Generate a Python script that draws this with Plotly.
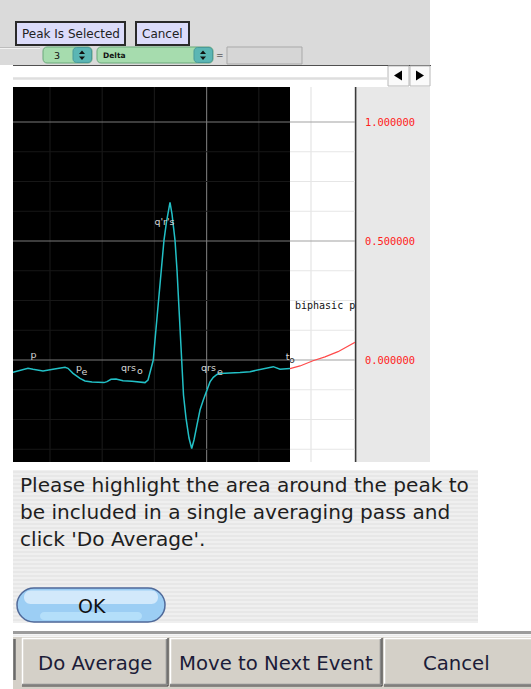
import plotly.graph_objects as go

# ---------------- data ----------------
# averaged beat (cyan) : sample position on the time axis, amplitude
ecg_sample = [13, 20, 28, 33, 43, 53, 65, 68, 73, 80,
              85, 92, 100, 104, 107, 111, 116, 123, 132, 140,
              145, 148, 151.5, 153.3, 155, 158, 161.7, 164, 166.5, 170,
              172, 175, 177, 179.5, 181.7, 183.5, 186, 189, 191.7, 194,
              197, 200, 203.3, 206.7, 210, 213.3, 217, 220, 230, 240,
              250, 260, 267, 273.3, 280, 286.7, 290]
ecg_value = [-0.052, -0.044, -0.035, -0.039, -0.046, -0.039, -0.031, -0.035, -0.056, -0.077,
             -0.088, -0.092, -0.094, -0.095, -0.091, -0.081, -0.080, -0.087, -0.089, -0.091,
             -0.095, -0.084, -0.028, 0.0, 0.084, 0.231, 0.378, 0.504, 0.580, 0.662,
             0.613, 0.504, 0.378, 0.168, 0.0, -0.147, -0.244, -0.328, -0.372, -0.336,
             -0.273, -0.210, -0.168, -0.126, -0.092, -0.073, -0.061, -0.057, -0.056, -0.053,
             -0.049, -0.039, -0.034, -0.028, -0.039, -0.039, -0.036]

# continuation of the signal outside the selection (red)
next_sample = [290, 300, 313, 325, 338, 347, 355]
next_value = [-0.036, -0.025, -0.003, 0.013, 0.035, 0.055, 0.074]

# fiducial point labels (main part and subscript part)
marker_sample = [33.5, 79, 128.5, 164.5, 208.5, 287.5]
marker_value = [0.019, -0.038, -0.036, 0.576, -0.036, 0.010]
marker_text = ['p', 'p', 'qrs', "q'r's", 'qrs', 't']

marker_sub_sample = [84.5, 140, 220]
marker_sub_value = [-0.053, -0.050, -0.053]
marker_sub_text = ['e', 'o', 'e']

onset_sub_sample = [292]
onset_sub_value = [-0.004]
onset_sub_text = ['o']

wave_label_sample = [295]
wave_label_value = [0.223]
wave_label_text = ['biphasic p']

# amplitude tick labels
y_ticks = [0.0, 0.5, 1.0]
y_tick_text = ['0.000000', '0.500000', '1.000000']

# interface texts
top_buttons = ['Peak Is Selected', 'Cancel']
lead_number = '3'
measure_name = 'Delta'
dialog_lines = ['Please highlight the area around the peak to',
                'be included in a single averaging pass and',
                "click 'Do Average'."]
ok_label = 'OK'
bottom_buttons = ['Do Average', 'Move to Next Event', 'Cancel']

# ---------------- layout helpers ----------------
W, H = 531, 689
X_RANGE = [13, 355]
Y_RANGE = [(360 - 462) / 238.0, (360 - 87) / 238.0]


def X(px):
    return px / W


def Y(py):
    return 1 - py / H


shapes = []
annotations = []


def rect(x0, y0, x1, y1, fill, line=None, lw=0, layer='below'):
    shapes.append(dict(type='rect', xref='paper', yref='paper',
                       x0=X(x0), x1=X(x1), y0=Y(y1), y1=Y(y0),
                       fillcolor=fill, line=dict(color=line or fill, width=lw), layer=layer))


def seg(x0, y0, x1, y1, color, w=1, layer='below'):
    shapes.append(dict(type='line', xref='paper', yref='paper',
                       x0=X(x0), x1=X(x1), y0=Y(y0), y1=Y(y1),
                       line=dict(color=color, width=w), layer=layer))


def path(points_cmds, fill, line=None, lw=0, layer='below'):
    shapes.append(dict(type='path', xref='paper', yref='paper', path=points_cmds,
                       fillcolor=fill, line=dict(color=line or fill, width=lw), layer=layer))


def P(x, y):
    return f'{X(x):.5f},{Y(y):.5f}'


def rounded(x0, y0, x1, y1, r):
    k = 0.5523 * r
    return (f'M{P(x0 + r, y0)} L{P(x1 - r, y0)} C{P(x1 - r + k, y0)} {P(x1, y0 + r - k)} {P(x1, y0 + r)} '
            f'L{P(x1, y1 - r)} C{P(x1, y1 - r + k)} {P(x1 - r + k, y1)} {P(x1 - r, y1)} '
            f'L{P(x0 + r, y1)} C{P(x0 + r - k, y1)} {P(x0, y1 - r + k)} {P(x0, y1 - r)} '
            f'L{P(x0, y0 + r)} C{P(x0, y0 + r - k)} {P(x0 + r - k, y0)} {P(x0 + r, y0)} Z')


def text(x, y, s, size, color='#222222', family='DejaVu Sans', xanchor='center'):
    annotations.append(dict(xref='paper', yref='paper', x=X(x), y=Y(y), text=s, showarrow=False,
                            xanchor=xanchor, yanchor='middle',
                            font=dict(size=size, color=color, family=family)))


# ---------------- top toolbar ----------------
rect(0, 0, 430, 65, '#dadada')
seg(0, 47.5, 40, 47.5, '#bdbdbd', 1)
seg(0, 48.5, 40, 48.5, '#f2f2f2', 1)

btn_boxes = [(16, 22, 125, 45), (136, 22, 189, 45)]
for (x0, y0, x1, y1), lab in zip(btn_boxes, top_buttons):
    rect(x0, y0, x1, y1, '#dcdcfa', '#2a2a2a', 2)
    text((x0 + x1) / 2, (y0 + y1) / 2 + 0.5, lab, 12)

# spinners
for (x0, x1, xa), lab, tx in [((43, 92, 73), lead_number, 57), ((97, 213, 194), measure_name, 101)]:
    path(rounded(x0, 47, x1, 63, 4), '#a6dcae', '#6aa87a', 1)
    path(rounded(xa, 47.5, x1 - 0.5, 62.5, 3.5), '#5bb6b4', '#4a9a9a', 1)
    path(f'M{P(xa + 6, 54)} L{P(xa + 12, 54)} L{P(xa + 9, 50.5)} Z', '#111111')
    path(f'M{P(xa + 6, 56.5)} L{P(xa + 12, 56.5)} L{P(xa + 9, 60)} Z', '#111111')
    if lab == lead_number:
        text(tx, 55.5, lab, 9.5, '#111111')
    else:
        text(tx, 55.5, '<b>' + lab + '</b>', 7.5, '#111111', xanchor='left')
text(220, 55.5, '=', 9, '#222222')
rect(227, 47, 302, 64, '#d6d6d6', '#a9a9a9', 1)

# scroll bar
rect(13, 65, 387, 86, '#ffffff')
seg(13, 65.5, 431, 65.5, '#505050', 1.2)
seg(13, 78.5, 387, 78.5, '#dedede', 2.5)
rect(388, 66, 409, 86, '#fafafa', '#b8b8b8', 1)
rect(410, 66, 430, 86, '#fafafa', '#b8b8b8', 1)
path(f'M{P(394, 75.5)} L{P(402, 70.5)} L{P(402, 80.5)} Z', '#000000')
path(f'M{P(424, 75.5)} L{P(416, 70.5)} L{P(416, 80.5)} Z', '#000000')

# ---------------- chart frame ----------------
rect(13, 87, 290, 462, '#000000')
rect(290, 87, 355, 462, '#ffffff')
rect(356, 87, 430, 462, '#e8e8e8')
seg(355.6, 87, 355.6, 462, '#3a3a3a', 1.6)

# grid (drawn on the chart axes)
for i in range(6):
    gx = 50 + 52.2 * i
    major = (i == 3)
    if gx < 290:
        col = '#6e6e6e' if major else '#171717'
    else:
        col = '#e4e4e4'
    shapes.append(dict(type='line', xref='x', yref='y', x0=gx, x1=gx, y0=Y_RANGE[0], y1=Y_RANGE[1],
                       line=dict(color=col, width=1.2), layer='below'))
for k in range(-3, 9):
    gy = 0.125 * k
    major = (k % 4 == 0)
    shapes.append(dict(type='line', xref='x', yref='y', x0=13, x1=290, y0=gy, y1=gy,
                       line=dict(color='#7a7a7a' if major else '#171717', width=1.2), layer='below'))
    shapes.append(dict(type='line', xref='x', yref='y', x0=290, x1=355, y0=gy, y1=gy,
                       line=dict(color='#a2a2a2' if major else '#e6e6e6', width=1.2), layer='below'))

# ---------------- dialog ----------------
rect(13, 470, 478, 623, '#efefef')
for yy in range(472, 623, 4):
    seg(13, yy, 478, yy, '#e5e5e5', 1.5)
for i, line in enumerate(dialog_lines):
    text(18, 485 + 26.8 * i, line, 20.1, '#1e1e1e', xanchor='left')

# OK aqua button
path(rounded(17, 588, 165, 622, 17), '#9ccef4', '#506a9a', 1.5)
path(rounded(24, 590.5, 158, 604, 6.5), '#d2e9fb')
path(rounded(40, 612, 142, 620, 4), '#b4dffa')
text(92, 606, ok_label, 19, '#111111')

# ---------------- bottom button bar ----------------
seg(13, 632.5, 531, 632.5, '#9c9c9c', 3)
seg(13, 635.5, 531, 635.5, '#ececec', 2)
rect(13, 637, 531, 689, '#d4d0c8')
seg(14.5, 639, 14.5, 680, '#6a6a6a', 2.5)
bb_boxes = [(22, 168), (170, 382), (384, 535)]
for (x0, x1), lab in zip(bb_boxes, bottom_buttons):
    rect(x0, 638, x1, 685, '#d4d0c8')
    seg(x0 + 0.5, 638, x0 + 0.5, 685, '#ffffff', 1.5)
    seg(x0, 638.5, x1, 638.5, '#ffffff', 1.5)
    seg(x1 - 1.5, 639, x1 - 1.5, 685, '#8a8a8a', 1.5)
    seg(x1, 638, x1, 686, '#3e3e3e', 1.2)
    seg(x0, 684.5, x1, 684.5, '#8a8a8a', 1.5)
    seg(x0, 686, x1, 686, '#3e3e3e', 1.2)
    text((x0 + x1) / 2 if x1 < 531 else 456, 663, lab, 19.7, '#1c1c38')

# ---------------- traces ----------------
fig = go.Figure()
fig.add_trace(go.Scatter(x=ecg_sample, y=ecg_value, mode='lines',
                         line=dict(color='#22c0c6', width=1.5), hoverinfo='skip'))
fig.add_trace(go.Scatter(x=next_sample, y=next_value, mode='lines',
                         line=dict(color='#ff4a4a', width=1.2), hoverinfo='skip'))
label_font = dict(family='DejaVu Sans', size=9.5, color='#d6d6d6')
fig.add_trace(go.Scatter(x=marker_sample, y=marker_value, mode='text', text=marker_text,
                         textposition='middle center', cliponaxis=True,
                         textfont=label_font, hoverinfo='skip'))
fig.add_trace(go.Scatter(x=marker_sub_sample, y=marker_sub_value, mode='text', text=marker_sub_text,
                         textposition='middle center', cliponaxis=True,
                         textfont=label_font, hoverinfo='skip'))
fig.add_trace(go.Scatter(x=onset_sub_sample, y=onset_sub_value, mode='text', text=onset_sub_text,
                         textposition='middle center', cliponaxis=True,
                         textfont=dict(family='DejaVu Sans', size=9.5, color='#333333'), hoverinfo='skip'))
fig.add_trace(go.Scatter(x=wave_label_sample, y=wave_label_value, mode='text', text=wave_label_text,
                         textposition='middle right', cliponaxis=True,
                         textfont=dict(family='DejaVu Sans Mono', size=10, color='#111111'), hoverinfo='skip'))

fig.update_layout(
    width=W, height=H, margin=dict(l=0, r=0, t=0, b=0),
    paper_bgcolor='#ffffff', plot_bgcolor='rgba(0,0,0,0)',
    showlegend=False, shapes=shapes, annotations=annotations,
    xaxis=dict(domain=[X(13), X(355)], range=X_RANGE, visible=False, fixedrange=True),
    yaxis=dict(domain=[Y(462), Y(87)], range=Y_RANGE, side='right',
               showgrid=False, zeroline=False, showline=False, ticks='',
               tickvals=y_ticks, ticktext=y_tick_text, ticklabelstandoff=9,
               tickfont=dict(family='DejaVu Sans Mono', size=10.4, color='#ff2020'),
               fixedrange=True),
)

fig.write_html('out.html', config={'displayModeBar': False},
               post_script="document.body.style.margin='0';document.body.style.overflow='hidden';")
